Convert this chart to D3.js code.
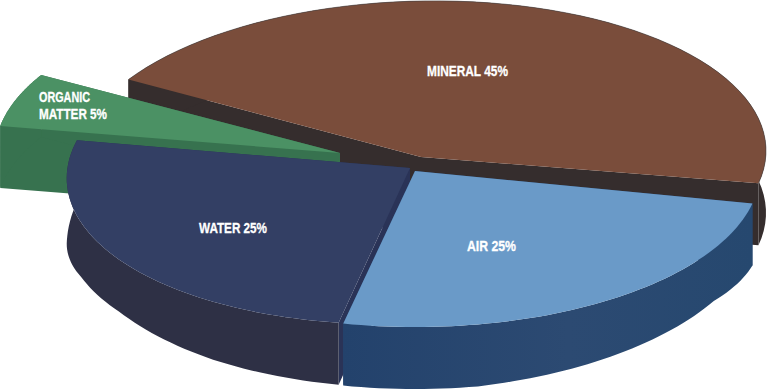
<!DOCTYPE html>
<html>
<head>
<meta charset="utf-8">
<script src="https://cdn.jsdelivr.net/npm/d3@7"></script>
<style>
  html, body { margin: 0; background: #fff; }
  svg { display: block; }
  .pie-label { fill: #fff; stroke: #fff; stroke-width: 0.3; font: bold 14.5px "Liberation Sans", sans-serif; }
</style>
</head>
<body>
<div id="chart"></div>
<script>
const categories = ["MINERAL", "AIR", "WATER", "ORGANIC MATTER"];
const shares = [45, 25, 25, 5];

const width = 769;
const height = 390;
const depth = 62;
const deg = Math.PI / 180;
const rx = d3.scaleLinear().domain([-1, 1]).range([-345, 345]);
const ry = d3.scaleLinear().domain([-1, 1]).range([-156, 156]);

// layout per slice, same order as categories
const tips = [[421, 157], [415, 171], [410, 168], [340, 153]];
const trims = [[2, 0], [0, 0], [0, 2], [-2, 0]]; // degrees, the drawing isn't a true circle
const shears = [-0.018, 0, -0.03, 0];
const widen = [1, 1, 0.995, 1];
const drops = [
  () => depth,
  d3.scaleLinear().domain([0, 0.2, 0.75, 1]).range([62, 52, 62, 62]),
  d3.scaleLinear().domain([0, 0.25, 0.5, 0.66, 0.87, 1]).range([62, 58, 52, 54, 67, 62]),
  () => depth
];
const topColor = ["#7a4d3b", "#6a9ac8", "#333f64", "#4b9164"];
const sideColor = ["#352d2d", "url(#air-side)", "#2e3045", "#37724f"];
const cutColor = ["#352d2d", "#27456f", "#2a3357", "#37724f"];
const labelX = [427, 467, 199, 39];
const labelY = [76, 251, 233, 102];
const labelW = [81, 49, 68, 68];

const svg = d3.select("#chart").append("svg").attr("width", width).attr("height", height);

const grad = svg.append("defs").append("linearGradient").attr("id", "air-side");
grad.append("stop").attr("offset", "0%").attr("stop-color", "#23426c");
grad.append("stop").attr("offset", "55%").attr("stop-color", "#2c4a72");
grad.append("stop").attr("offset", "100%").attr("stop-color", "#26486f");

const pie = d3.pie().sort(null).startAngle(-60 * deg).endAngle(300 * deg);
const arcs = pie(shares);
const line = d3.line();

function rim(d, i, lower) {
  const [tx, ty] = tips[i];
  const a0 = d.startAngle + trims[i][0] * deg;
  const a1 = d.endAngle + trims[i][1] * deg;
  return d3.range(0, 61).map(k => {
    const a = a0 + (a1 - a0) * k / 60;
    const dx = rx(Math.sin(a)) * widen[i];
    const y = ty + ry(-Math.cos(a)) + shears[i] * dx;
    return [tx + dx, lower ? y + drops[i](k / 60) : y];
  });
}

function cutFace(i, p) {
  const [tx, ty] = tips[i];
  return [[tx, ty], p, [p[0], p[1] + depth], [tx, ty + depth]];
}

function drawSlice(i) {
  const d = arcs[i];
  const g = svg.append("g").attr("class", "slice");
  const edge = rim(d, i, false);
  const lower = rim(d, i, true).reverse();

  g.append("path").attr("d", line(cutFace(i, edge[0])) + "Z").attr("fill", cutColor[i]);
  g.append("path").attr("d", line(cutFace(i, edge[edge.length - 1])) + "Z").attr("fill", cutColor[i]);
  g.append("path").attr("d", line(edge.concat(lower)) + "Z").attr("fill", sideColor[i]);
  g.append("path").attr("d", line([tips[i], ...edge]) + "Z").attr("fill", topColor[i]);
}

// back to front
[0, 3, 2, 1].forEach(drawSlice);

// the thin shadow line round the brown slice
svg.append("path")
  .attr("d", line(rim(arcs[0], 0, false)))
  .attr("fill", "none").attr("stroke", "#4a4240").attr("stroke-width", 0.6);

categories.forEach((name, i) => {
  const label = svg.append("text").attr("class", "pie-label");
  if (name === "ORGANIC MATTER") {
    label.append("tspan").attr("x", labelX[i]).attr("y", labelY[i])
      .attr("textLength", 51).attr("lengthAdjust", "spacingAndGlyphs").text("ORGANIC");
    label.append("tspan").attr("x", labelX[i]).attr("y", labelY[i] + 17)
      .attr("textLength", labelW[i]).attr("lengthAdjust", "spacingAndGlyphs").text(`MATTER ${shares[i]}%`);
  } else {
    label.attr("x", labelX[i]).attr("y", labelY[i])
      .attr("textLength", labelW[i]).attr("lengthAdjust", "spacingAndGlyphs")
      .text(`${name} ${shares[i]}%`);
  }
});
</script>
</body>
</html>
